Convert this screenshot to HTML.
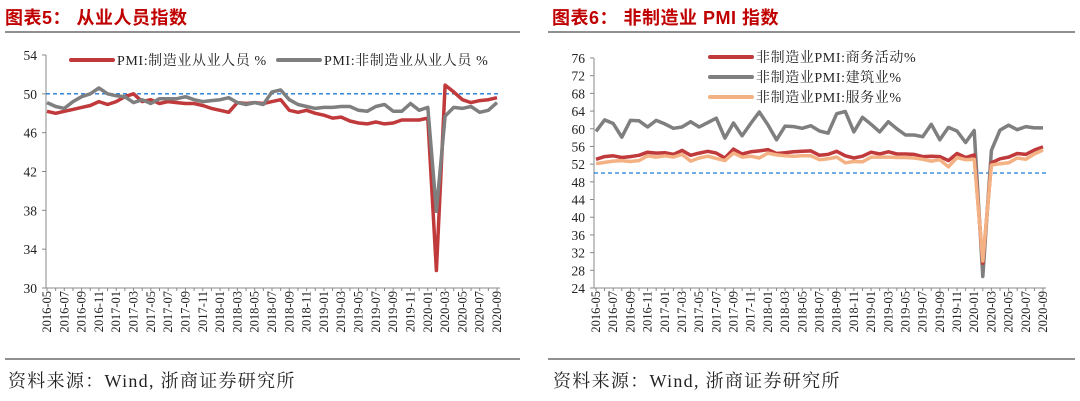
<!DOCTYPE html>
<html><head><meta charset="utf-8">
<style>
body{margin:0;background:#fff;width:1080px;height:401px;overflow:hidden}
svg{display:block}
text{font-family:"Liberation Serif","Noto Serif CJK SC",serif}
</style></head><body>
<svg id="s" width="1080" height="401" xmlns="http://www.w3.org/2000/svg">
<text x="5" y="24" font-size="18" font-weight="bold" fill="#c00000" letter-spacing="0.5" style="font-family:'Liberation Sans','Noto Sans CJK SC',sans-serif">图表5：  从业人员指数</text>
<text x="552" y="24" font-size="18" font-weight="bold" fill="#c00000" letter-spacing="0.5" style="font-family:'Liberation Sans','Noto Sans CJK SC',sans-serif">图表6：  非制造业 PMI 指数</text>
<line x1="5" y1="32" x2="520" y2="32" stroke="#222" stroke-width="1"/>
<line x1="548" y1="32" x2="1075" y2="32" stroke="#222" stroke-width="1"/>
<line x1="5" y1="359" x2="520" y2="359" stroke="#222" stroke-width="1"/>
<line x1="548" y1="359" x2="1075" y2="359" stroke="#222" stroke-width="1"/>
<text x="8" y="387" font-size="18" letter-spacing="1.3" fill="#222">资料来源：Wind, 浙商证券研究所</text>
<text x="553" y="387" font-size="18" letter-spacing="1.3" fill="#222">资料来源：Wind, 浙商证券研究所</text>
</svg>
<script>
const months = [];
for (let y = 2016; y <= 2020; y++) for (let m = 1; m <= 12; m++) {
  if ((y === 2016 && m < 5) || (y === 2020 && m > 9)) continue;
  months.push(y + '-' + String(m).padStart(2, '0'));
}
const mfgEmp = [48.2,48.0,48.2,48.4,48.6,48.8,49.2,48.9,49.2,49.7,50.0,49.2,49.4,49.0,49.2,49.1,49.0,49.0,48.8,48.5,48.3,48.1,49.1,49.0,49.1,49.0,49.2,49.4,48.3,48.1,48.3,48.0,47.8,47.5,47.6,47.2,47.0,46.9,47.1,46.9,47.0,47.3,47.3,47.3,47.5,31.8,50.9,50.2,49.4,49.1,49.3,49.4,49.6];
const nonMfgEmp = [49.1,48.7,48.5,49.2,49.7,50.0,50.6,50.0,49.8,49.7,49.1,49.4,49.0,49.5,49.5,49.5,49.7,49.4,49.2,49.3,49.4,49.6,49.1,48.9,49.1,48.9,50.2,50.4,49.4,48.9,48.7,48.5,48.6,48.6,48.7,48.7,48.3,48.2,48.7,48.9,48.2,48.2,49.0,48.3,48.6,37.9,47.7,48.6,48.5,48.7,48.1,48.3,49.1];
const bizAct = [53.1,53.7,53.9,53.5,53.7,54.0,54.7,54.5,54.6,54.2,55.1,54.0,54.5,54.9,54.5,53.4,55.4,54.3,54.8,55.0,55.3,54.4,54.6,54.8,54.9,55.0,54.0,54.2,54.9,53.9,53.4,53.8,54.7,54.3,54.8,54.3,54.3,54.2,53.7,53.8,53.7,52.8,54.4,53.5,54.1,29.6,52.3,53.2,53.6,54.4,54.2,55.2,55.9];
const construction = [59.4,62.0,61.2,58.1,61.9,61.8,60.4,61.9,61.1,60.1,60.4,61.6,60.4,61.4,62.4,57.9,61.3,58.4,61.2,63.8,60.9,57.5,60.6,60.5,60.1,60.7,59.5,59.0,63.4,63.9,59.3,62.6,61.0,59.3,61.6,60.0,58.6,58.6,58.2,61.0,57.5,60.3,59.5,56.9,59.6,26.6,55.1,59.7,60.8,59.8,60.5,60.2,60.2];
const services = [52.1,52.4,52.7,52.8,52.6,52.8,53.9,53.6,53.9,53.6,54.2,52.7,53.4,53.8,53.3,52.8,54.5,53.6,53.8,53.4,54.5,54.1,53.9,53.8,53.9,53.9,53.0,53.2,53.6,52.3,52.6,52.5,53.6,53.6,53.6,53.5,53.5,53.4,53.1,52.7,53.0,51.4,53.5,53.0,53.1,30.1,51.8,52.1,52.3,53.4,53.1,54.3,55.2];
const leftTicks = [30,34,38,42,46,50,54];
const rightTicks = [24,28,32,36,40,44,48,52,56,60,64,68,72,76];
const leftLegend = ['PMI:制造业从业人员 %','PMI:非制造业从业人员 %'];
const rightLegend = ['非制造业PMI:商务活动%','非制造业PMI:建筑业%','非制造业PMI:服务业%'];

const NS = 'http://www.w3.org/2000/svg';
const svg = document.getElementById('s');
function mk(tag, attrs, parent) {
  const e = document.createElementNS(NS, tag);
  for (const k in attrs) e.setAttribute(k, attrs[k]);
  (parent || svg).appendChild(e);
  return e;
}
function chart(cfg) {
  const g = mk('g', {});
  
  
  const xS = i => cfg.x0 + (cfg.x1 - cfg.x0) * i / (months.length - 1);
  const yS = v => cfg.yb + (cfg.yt - cfg.yb) * (v - cfg.min) / (cfg.max - cfg.min);
  const ax = mk('line', {x1: cfg.ax, y1: cfg.yt, x2: cfg.ax, y2: cfg.yb, stroke: '#888'}, g);
  
  
  const bx = mk('line', {x1: cfg.ax, y1: cfg.yb, x2: cfg.x1 + 3, y2: cfg.yb, stroke: '#888'}, g);
  
  
  cfg.ticks.forEach(t => {
    mk('line', {x1: cfg.ax - 4, y1: yS(t), x2: cfg.ax, y2: yS(t), stroke: '#888'}, g);
    const tx = mk('text', {x: cfg.ax - 9, y: yS(t) + 5, 'font-size': 13.5, 'text-anchor': 'end', fill: '#222'}, g);
    tx.textContent = t;
    
    
  });
  months.forEach((m, i) => {
    mk('line', {x1: xS(i), y1: cfg.yb, x2: xS(i), y2: cfg.yb + 3, stroke: '#888'}, g);
    if (i % 2 === 0) {
      const x = xS(i) + 4, y = cfg.yb + 3;
      const tx = mk('text', {x: x, y: y, 'font-size': 12.5, 'text-anchor': 'end', fill: '#222', transform: 'rotate(-90 ' + x + ' ' + y + ')'}, g);
      tx.textContent = m;
      
      
    }
  });
  const ref = mk('line', {x1: cfg.ax, y1: yS(50), x2: cfg.x1 + 3, y2: yS(50), stroke: '#1f7ad8', 'stroke-width': 1.3, 'stroke-dasharray': '4,3'}, g);
  
  
  cfg.series.forEach(s => {
    const d = s.data.map((v, i) => (i ? 'L' : 'M') + xS(i).toFixed(1) + ' ' + yS(v).toFixed(1)).join(' ');
    const p = mk('path', {d: d, fill: 'none', stroke: s.color, 'stroke-width': 3.5, 'stroke-linejoin': 'round'}, g);
    
    
  });
  cfg.legend.forEach((l, i) => {
    const ln = mk('line', {x1: l.x, y1: l.y, x2: l.x + 42, y2: l.y, stroke: cfg.series[i].color, 'stroke-width': 4, 'stroke-linecap': 'round'}, g);
    
    
    const tx = mk('text', {x: l.x + 46, y: l.y + 5, 'font-size': 14, 'letter-spacing': 0.6, fill: '#222'}, g);
    tx.textContent = l.label;
    
    
  });
}
chart({name: 'employment-chart', ax: 46, x0: 47, x1: 497, yt: 55, yb: 288, min: 30, max: 54, ticks: leftTicks,
  series: [{name: 'manufacturing-employment-line', data: mfgEmp, color: '#c0393b'}, {name: 'non-manufacturing-employment-line', data: nonMfgEmp, color: '#7f7f7f'}],
  legend: [{x: 71, y: 60, label: leftLegend[0]}, {x: 278, y: 60, label: leftLegend[1]}]});
chart({name: 'non-manufacturing-pmi-chart', ax: 594, x0: 596, x1: 1043, yt: 58, yb: 288, min: 24, max: 76, ticks: rightTicks,
  series: [{name: 'construction-line', data: construction, color: '#7f7f7f'}, {name: 'business-activity-line', data: bizAct, color: '#c0393b'}, {name: 'services-line', data: services, color: '#f4b183'}],
  legend: [{x: 710, y: 77, label: rightLegend[1]}, {x: 710, y: 57, label: rightLegend[0]}, {x: 710, y: 97, label: rightLegend[2]}]});
</script>
</body></html>
